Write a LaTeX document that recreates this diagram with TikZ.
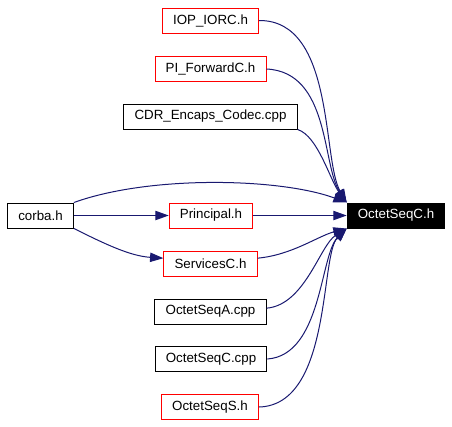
\documentclass[tikz,border=0pt]{standalone}
\usepackage{fontspec}
\setmainfont{Liberation Sans}
\usetikzlibrary{arrows.meta}
\definecolor{depblue}{HTML}{191970}
\tikzset{/DEP/file/.style={
	shape=rectangle, draw=black, line width=0.75pt,
	minimum height=18.75pt, inner xsep=8pt, inner ysep=0pt,
	font=\fontsize{10}{12}\selectfont
}}
\tikzset{/DEP/hdr/.style={/DEP/file, draw=red}}
\tikzset{/DEP/top/.style={/DEP/file, fill=black, text=white}}
\tikzset{/DEP/inc/.style={
	draw=depblue, line width=0.75pt, -{Triangle[length=10pt,width=7pt,fill=depblue]}
}}

\begin{document}
\begin{tikzpicture}[x=0.75pt, y=-0.75pt]
			\useasboundingbox (0,0) rectangle (452,426);
			\path (210.5,20.5) node[/DEP/hdr] (iop) {IOP\_IORC.h};
			\path (iop.center) ++ (0,48.5) node[/DEP/hdr] (pif) {PI\_ForwardC.h};
			\path (pif.center) ++ (0,47.5) node[/DEP/file] (cdr) {CDR\_Encaps\_Codec.cpp};
			\path (40.5,215.5) node[/DEP/file] (corba) {corba.h};
			\path (corba.center) ++ (170.5,0) node[/DEP/hdr] (principal) {Principal.h};
			\path (principal.center) ++ (185,0) node[/DEP/top] (osc) {OctetSeqC.h};
			\path (principal.center) ++ (-0.5,48) node[/DEP/hdr] (services) {ServicesC.h};
			\path (services.center) ++ (0,48) node[/DEP/file] (osa) {OctetSeqA.cpp};
			\path (osa.center) ++ (0.5,47.5) node[/DEP/file] (oscc) {OctetSeqC.cpp};
			\path (oscc.center) ++ (-1,48) node[/DEP/hdr] (oss) {OctetSeqS.h};
			% edges into OctetSeqC.h
			\draw[/DEP/inc] (iop.east) .. controls (335,20) and (322,160) .. (osc.north west);
			\draw[/DEP/inc] (pif.east) .. controls (330,72) and (322,165) .. (osc.north west);
			\draw[/DEP/inc] (cdr.south east) .. controls (318,136) and (330,180) .. (osc.north west);
			\draw[/DEP/inc] (corba.north east) .. controls (150,175) and (280,178) .. (osc.north west);
			\draw[/DEP/inc] (corba) -- (principal);
			\draw[/DEP/inc] (principal) -- (osc);
			\draw[/DEP/inc] (corba.south east) .. controls (105,244) and (130,256) .. ([yshift=4pt]services.west);
			\draw[/DEP/inc] ([yshift=4pt]services.east) .. controls (292,255) and (318,236) .. (osc.south west);
			\draw[/DEP/inc] ([yshift=2.5pt]osa.east) .. controls (305,305) and (320,245) .. (osc.south west);
			\draw[/DEP/inc] (oscc.east) .. controls (322,355) and (320,255) .. (osc.south west);
			\draw[/DEP/inc] (oss.east) .. controls (332,405) and (320,255) .. (osc.south west);
		\end{tikzpicture}
\end{document}
